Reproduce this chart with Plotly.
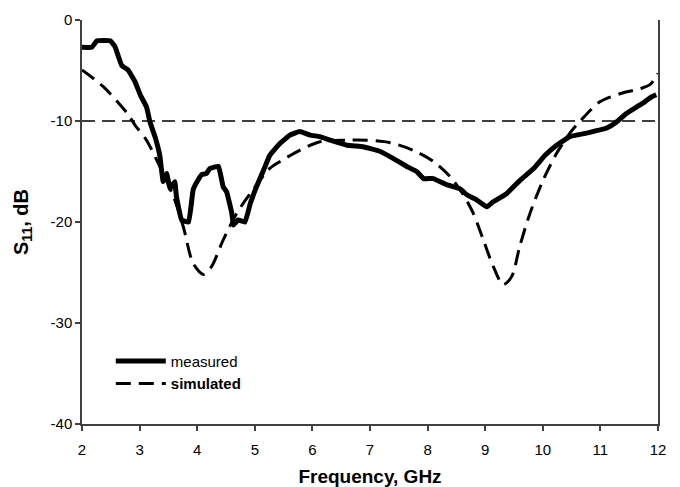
import plotly.graph_objects as go

meas_f = [2.0, 2.17, 2.26, 2.49, 2.57, 2.69, 2.80, 2.92, 3.01, 3.12, 3.18, 3.27, 3.35, 3.41, 3.47, 3.53,
          3.61, 3.64, 3.73, 3.85, 3.93, 4.02, 4.08, 4.16, 4.22, 4.37, 4.45, 4.51, 4.60, 4.63, 4.71, 4.83,
          4.92, 5.03, 5.15, 5.26, 5.44, 5.61, 5.78, 5.96, 6.13, 6.31, 6.60, 6.88, 7.17, 7.40, 7.64, 7.81,
          7.93, 8.10, 8.33, 8.56, 8.68, 8.85, 9.03, 9.14, 9.37, 9.60, 9.84, 10.04, 10.24, 10.47, 10.76,
          11.11, 11.28, 11.45, 11.63, 11.77, 11.89, 11.97]
meas_db = [-2.7, -2.7, -2.05, -2.05, -2.6, -4.5, -4.95, -6.1, -7.4, -8.6, -10.1, -11.6, -13.4, -16.0, -15.2, -16.7,
           -16.0, -17.5, -19.8, -20.0, -16.8, -15.8, -15.3, -15.2, -14.7, -14.5, -16.5, -17.0, -19.1, -20.3, -19.8, -20.0,
           -18.2, -16.5, -14.9, -13.4, -12.2, -11.4, -11.05, -11.4, -11.55, -11.9, -12.4, -12.55, -13.0, -13.7, -14.5, -15.0,
           -15.7, -15.7, -16.3, -16.7, -17.3, -17.8, -18.5, -18.0, -17.2, -15.9, -14.7, -13.4, -12.4, -11.55, -11.2,
           -10.7, -10.1, -9.25, -8.6, -8.1, -7.6, -7.4]

sim_f = [2.0, 2.37, 2.78, 2.92, 3.12, 3.35, 3.59, 3.76, 3.93, 4.11, 4.25, 4.45, 4.69, 4.97, 5.26, 5.44,
         5.78, 6.13, 6.60, 6.94, 7.35, 7.75, 8.10, 8.39, 8.62, 8.79, 8.97, 9.14, 9.31, 9.46, 9.60, 9.78,
         10.01, 10.24, 10.47, 10.65, 10.99, 11.34, 11.69, 11.86, 12.0]
sim_db = [-4.95, -6.6, -9.2, -10.4, -11.9, -14.5, -17.5, -20.5, -24.1, -25.2, -24.4, -21.8, -19.1, -16.8, -14.7, -14.0,
          -12.9, -12.05, -11.9, -11.9, -12.15, -12.9, -14.0, -15.5, -17.3, -19.1, -21.8, -24.4, -26.2, -25.4, -22.4, -19.1,
          -15.8, -13.2, -11.2, -10.0, -8.1, -7.3, -6.8, -6.4, -5.3]

ref_f = [2, 12]
ref_db = [-10, -10]

x_ticks = [2, 3, 4, 5, 6, 7, 8, 9, 10, 11, 12]
y_ticks = [0, -10, -20, -30, -40]

fig = go.Figure()
fig.add_trace(go.Scatter(x=ref_f, y=ref_db, mode="lines", showlegend=False,
                         line=dict(color="black", width=1.3, dash="13px,7px")))
fig.add_trace(go.Scatter(x=meas_f, y=meas_db, mode="lines", name="measured",
                         line=dict(color="black", width=5, shape="spline", smoothing=0.3)))
fig.add_trace(go.Scatter(x=sim_f, y=sim_db, mode="lines", name="<b>simulated</b>",
                         line=dict(color="black", width=3, dash="15px,8px", shape="spline", smoothing=0.8)))

axis_common = dict(showgrid=False, zeroline=False, showline=True, linecolor="#404040", linewidth=1.5,
                   ticks="outside", ticklen=5, tickcolor="#404040", tickwidth=1.5, automargin=False,
                   tickfont=dict(family="Liberation Sans, Arial", size=15, color="black"))

fig.update_layout(
    width=672, height=479,
    margin=dict(l=74, r=22, t=12, b=63, autoexpand=False),
    paper_bgcolor="white", plot_bgcolor="white",
    font=dict(family="Liberation Sans, Arial", color="black"),
    xaxis=dict(range=[2, 12], tickvals=x_ticks, ticktext=[str(v) for v in x_ticks], ticklabelstandoff=6,
               title=dict(text="<b>Frequency, GHz</b>", font=dict(size=19), standoff=13),
               **axis_common),
    yaxis=dict(range=[-40, 0], tickvals=y_ticks, ticktext=[str(v) for v in y_ticks], mirror=True,
               title=dict(text="<b>S<sub>11</sub>, dB</b>", font=dict(size=20), standoff=17),
               **axis_common),
    legend=dict(x=0.05, y=0.196, xanchor="left", yanchor="top", bgcolor="rgba(0,0,0,0)",
                font=dict(size=15), itemwidth=50, tracegroupgap=0),
)

fig.write_html("out.html")
